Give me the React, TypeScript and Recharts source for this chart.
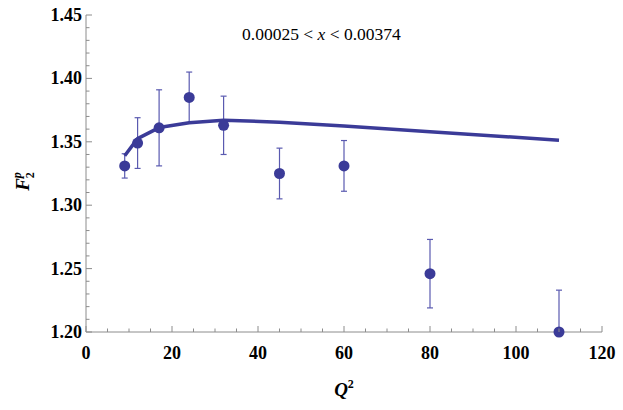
import { ComposedChart, Line, Scatter, ErrorBar, XAxis, YAxis } from 'recharts'

// measured points: Q^2, F2^p and its error
const Q2 = [9, 12, 17, 24, 32, 45, 60, 80, 110]
const F2 = [1.331, 1.349, 1.361, 1.385, 1.363, 1.325, 1.331, 1.246, 1.2]
const F2_ERR = [0.0096, 0.02, 0.03, 0.02, 0.023, 0.02, 0.02, 0.027, 0.033]

// model curve
const MODEL_Q2 = [9, 12, 17, 24, 32, 45, 60, 80, 110]
const MODEL_F2 = [1.339, 1.3525, 1.3612, 1.365, 1.367, 1.3655, 1.3625, 1.358, 1.3512]

const X_TICKS = [0, 5, 10, 15, 20, 25, 30, 35, 40, 45, 50, 55, 60, 65, 70, 75, 80, 85, 90, 95, 100, 105, 110, 115, 120]
const X_MAJOR = [0, 20, 40, 60, 80, 100, 120]
const Y_TICKS = Array.from({ length: 26 }, (_, i) => Math.round((1.2 + i * 0.01) * 100) / 100)
const Y_MAJOR = [1.2, 1.25, 1.3, 1.35, 1.4, 1.45]

const points = Q2.map((q, i) => ({ q, f: F2[i], err: F2_ERR[i] }))
const model = MODEL_Q2.map((q, i) => ({ q, f: MODEL_F2[i] }))

const FONT = '"Liberation Serif", "Times New Roman", serif'
const FRAME = '#8c8c8c'
const BLUE = '#3b3b98'
const ERR = '#5a5ab0'

const isMajorY = (v: number) => Y_MAJOR.some((m) => Math.abs(m - v) < 1e-6)
const isMajorX = (v: number) => X_MAJOR.includes(v)

function LeftTick({ x, y, payload }: any) {
  const major = isMajorY(payload.value)
  return (
    <g>
      <line x1={x} x2={x + (major ? 6 : 3.5)} y1={y} y2={y} stroke={FRAME} />
      {major && (
        <text x={x - 4} y={y} dy={6} textAnchor="end" fontFamily={FONT} fontWeight="bold" fontSize={18} fill="#000">
          {payload.value.toFixed(2)}
        </text>
      )}
    </g>
  )
}

function RightTick({ x, y, payload }: any) {
  const major = isMajorY(payload.value)
  return <line x1={x} x2={x - (major ? 6 : 3.5)} y1={y} y2={y} stroke={FRAME} />
}

function BottomTick({ x, y, payload }: any) {
  const major = isMajorX(payload.value)
  return (
    <g>
      <line x1={x} x2={x} y1={y} y2={y - (major ? 6 : 3.5)} stroke={FRAME} />
      {major && (
        <text x={x} y={y + 27} textAnchor="middle" fontFamily={FONT} fontWeight="bold" fontSize={18} fill="#000">
          {payload.value}
        </text>
      )}
    </g>
  )
}

function TopTick({ x, y, payload }: any) {
  const major = isMajorX(payload.value)
  return <line x1={x} x2={x} y1={y} y2={y + (major ? 6 : 3.5)} stroke={FRAME} />
}

function XTitle({ viewBox }: any) {
  const cx = viewBox.x + viewBox.width / 2
  return (
    <text x={cx} y={viewBox.y + 64} textAnchor="middle" fontFamily={FONT} fontWeight="bold" fontSize={19} fill="#000">
      <tspan fontStyle="italic">Q</tspan>
      <tspan fontSize={12} dy={-8}>2</tspan>
    </text>
  )
}

// y title; also defines the plot-area clip used for the error bars
function YTitle({ viewBox }: any) {
  const cx = 29
  const cy = viewBox.y + viewBox.height / 2 + 8
  return (
    <g>
      <defs>
        <clipPath id="plot-clip">
          <rect x={viewBox.x + viewBox.width} y={viewBox.y} width={1000} height={viewBox.height} />
        </clipPath>
      </defs>
      <text x={cx} y={cy} transform={`rotate(-90, ${cx}, ${cy})`} textAnchor="middle" fontFamily={FONT} fontWeight="bold" fontStyle="italic" fontSize={19} fill="#000">
        <tspan>F</tspan>
        <tspan fontSize={12} dy={-8}>p</tspan>
        <tspan fontSize={12} fontStyle="normal" dx={-6} dy={13}>2</tspan>
      </text>
    </g>
  )
}

export default function App() {
  return (
    <div style={{ position: 'absolute', left: 0, top: 0, width: 623, height: 410, background: '#fff' }}>
      <style>{'.recharts-errorBar { clip-path: url(#plot-clip); }'}</style>
      <ComposedChart width={623} height={410} margin={{ top: 15, right: 21, bottom: 0, left: 0 }}>
        <XAxis
          xAxisId="bottom"
          dataKey="q"
          type="number"
          domain={[0, 120]}
          ticks={X_TICKS}
          interval={0}
          tick={BottomTick}
          tickSize={0}
          tickMargin={0}
          tickLine={false}
          axisLine={{ stroke: FRAME }}
          height={78}
          label={{ content: XTitle }}
        />
        <XAxis
          xAxisId="top"
          orientation="top"
          dataKey="q"
          type="number"
          domain={[0, 120]}
          ticks={X_TICKS}
          interval={0}
          tick={TopTick}
          tickSize={0}
          tickMargin={0}
          tickLine={false}
          axisLine={{ stroke: FRAME }}
          height={0}
        />
        <YAxis
          yAxisId="left"
          type="number"
          domain={[1.2, 1.45]}
          allowDataOverflow
          ticks={Y_TICKS}
          interval={0}
          tick={LeftTick}
          tickSize={0}
          tickMargin={0}
          tickLine={false}
          axisLine={{ stroke: FRAME }}
          width={86}
          label={{ content: YTitle }}
        />
        <YAxis
          yAxisId="right"
          orientation="right"
          type="number"
          domain={[1.2, 1.45]}
          ticks={Y_TICKS}
          interval={0}
          tick={RightTick}
          tickSize={0}
          tickMargin={0}
          tickLine={false}
          axisLine={{ stroke: FRAME }}
          width={0}
        />
        <Scatter
          data={points}
          dataKey="f"
          xAxisId="bottom"
          yAxisId="left"
          shape={() => <g />}
          isAnimationActive={false}
        >
          <ErrorBar dataKey="err" direction="y" width={3} stroke={ERR} strokeWidth={1.2} />
        </Scatter>
        <Line
          data={model}
          dataKey="f"
          xAxisId="bottom"
          yAxisId="left"
          type="linear"
          stroke={BLUE}
          strokeWidth={3.5}
          strokeLinejoin="round"
          dot={false}
          activeDot={false}
          isAnimationActive={false}
        />
        <Scatter
          data={points}
          dataKey="f"
          xAxisId="top"
          yAxisId="right"
          fill={BLUE}
          shape={(p: any) => <circle cx={p.cx} cy={p.cy} r={5.5} fill={BLUE} />}
          isAnimationActive={false}
        />
      </ComposedChart>
      <div
        style={{
          position: 'absolute',
          left: 242,
          top: 24,
          fontFamily: FONT,
          fontSize: 17.5,
          lineHeight: '20px',
          whiteSpace: 'nowrap',
          color: '#000',
        }}
      >
        0.00025 &lt; <i>x</i> &lt; 0.00374
      </div>
    </div>
  )
}
